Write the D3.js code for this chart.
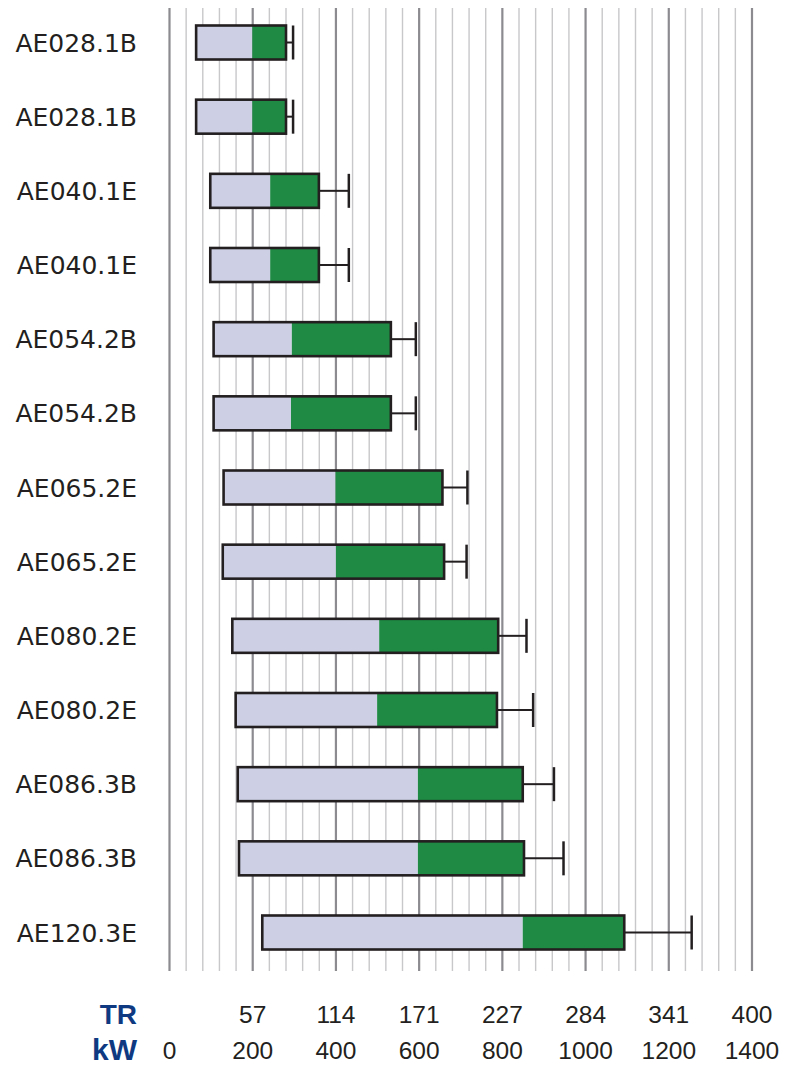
<!DOCTYPE html>
<html>
<head>
<meta charset="utf-8">
<script src="https://cdn.jsdelivr.net/npm/d3@7"></script>
<style>
  body { margin: 0; background: #fff; }
  svg { display: block; }
</style>
</head>
<body>
<svg width="785" height="1068"></svg>
<script>
  // models, one row each (some repeated on purpose)
  var models = ["AE028.1B", "AE028.1B", "AE040.1E", "AE040.1E", "AE054.2B", "AE054.2B",
                "AE065.2E", "AE065.2E", "AE080.2E", "AE080.2E", "AE086.3B", "AE086.3B", "AE120.3E"];
  // kW values
  var minKw  = [64, 64, 98, 98, 106, 106, 130, 128, 151, 159, 164, 167, 223];
  var midKw  = [199, 199, 242, 242, 294, 292, 399, 400, 504, 499, 597, 597, 849];
  var maxKw  = [280, 280, 359, 359, 532, 532, 656, 660, 790, 787, 849, 852, 1093];
  var peakKw = [297, 297, 431, 431, 592, 592, 716, 714, 858, 874, 924, 947, 1255];

  var kwTicks = [0, 200, 400, 600, 800, 1000, 1200, 1400];
  var trTicks = ["", "57", "114", "171", "227", "284", "341", "400"];

  var svg = d3.select("svg");
  var rows = d3.range(models.length);

  var x = d3.scaleLinear().domain([0, 1400]).range([169.5, 752]);
  var y = d3.scalePoint().domain(rows).range([42.5, 932.5]);
  var barH = 34;
  var gridTop = 8, gridBottom = 971;

  // grid, thin every 40 kW, dark every 200
  var minor = d3.range(0, 1401, 40).filter(function(d) { return d % 200 != 0; });
  svg.append("g").selectAll("line").data(minor).enter().append("line")
      .attr("x1", function(d) { return x(d); })
      .attr("x2", function(d) { return x(d); })
      .attr("y1", gridTop).attr("y2", gridBottom)
      .attr("stroke", "#c8c8ca").attr("stroke-width", 1.4);
  svg.append("g").selectAll("line").data(kwTicks).enter().append("line")
      .attr("x1", function(d) { return x(d); })
      .attr("x2", function(d) { return x(d); })
      .attr("y1", gridTop).attr("y2", gridBottom)
      .attr("stroke", "#8b8b90").attr("stroke-width", 2.2);

  var ink = "#231f20";
  var g = svg.append("g").selectAll("g").data(rows).enter().append("g");

  // whisker first so the bar border sits on top of it
  g.append("line")
      .attr("x1", function(i) { return x(maxKw[i]); })
      .attr("x2", function(i) { return x(peakKw[i]); })
      .attr("y1", function(i) { return y(i); })
      .attr("y2", function(i) { return y(i); })
      .attr("stroke", ink).attr("stroke-width", 2);
  g.append("line")
      .attr("x1", function(i) { return x(peakKw[i]); })
      .attr("x2", function(i) { return x(peakKw[i]); })
      .attr("y1", function(i) { return y(i) - barH / 2; })
      .attr("y2", function(i) { return y(i) + barH / 2; })
      .attr("stroke", ink).attr("stroke-width", 2.5);

  g.append("rect")
      .attr("x", function(i) { return x(minKw[i]); })
      .attr("y", function(i) { return y(i) - barH / 2; })
      .attr("width", function(i) { return x(midKw[i]) - x(minKw[i]); })
      .attr("height", barH)
      .attr("fill", "#cdd0e4");
  g.append("rect")
      .attr("x", function(i) { return x(midKw[i]); })
      .attr("y", function(i) { return y(i) - barH / 2; })
      .attr("width", function(i) { return x(maxKw[i]) - x(midKw[i]); })
      .attr("height", barH)
      .attr("fill", "#1f8a44");
  g.append("rect")
      .attr("x", function(i) { return x(minKw[i]); })
      .attr("y", function(i) { return y(i) - barH / 2; })
      .attr("width", function(i) { return x(maxKw[i]) - x(minKw[i]); })
      .attr("height", barH)
      .attr("fill", "none")
      .attr("stroke", ink).attr("stroke-width", 2.6);

  g.append("text")
      .attr("x", 137)
      .attr("y", function(i) { return y(i); })
      .attr("dy", "0.36em")
      .attr("text-anchor", "end")
      .attr("font-family", "DejaVu Sans, sans-serif")
      .attr("font-size", 25)
      .attr("fill", ink)
      .text(function(i) { return models[i]; });

  // two rows of tick labels under the grid
  var numFont = "Liberation Sans, Arial, sans-serif";
  svg.append("g").selectAll("text").data(kwTicks).enter().append("text")
      .attr("x", function(d) { return x(d); })
      .attr("y", 1059)
      .attr("text-anchor", "middle")
      .attr("font-family", numFont).attr("font-size", 24.5).attr("fill", ink)
      .text(function(d) { return d; });
  svg.append("g").selectAll("text").data(kwTicks).enter().append("text")
      .attr("x", function(d) { return x(d); })
      .attr("y", 1023)
      .attr("text-anchor", "middle")
      .attr("font-family", numFont).attr("font-size", 24.5).attr("fill", ink)
      .text(function(d, i) { return trTicks[i]; });

  svg.append("text").attr("x", 137).attr("y", 1024).attr("text-anchor", "end")
      .attr("font-family", numFont).attr("font-size", 28).attr("font-weight", "bold")
      .attr("fill", "#0f3a82").text("TR");
  svg.append("text").attr("x", 137).attr("y", 1060).attr("text-anchor", "end")
      .attr("font-family", numFont).attr("font-size", 30).attr("font-weight", "bold")
      .attr("fill", "#0f3a82").text("kW");
</script>
</body>
</html>
